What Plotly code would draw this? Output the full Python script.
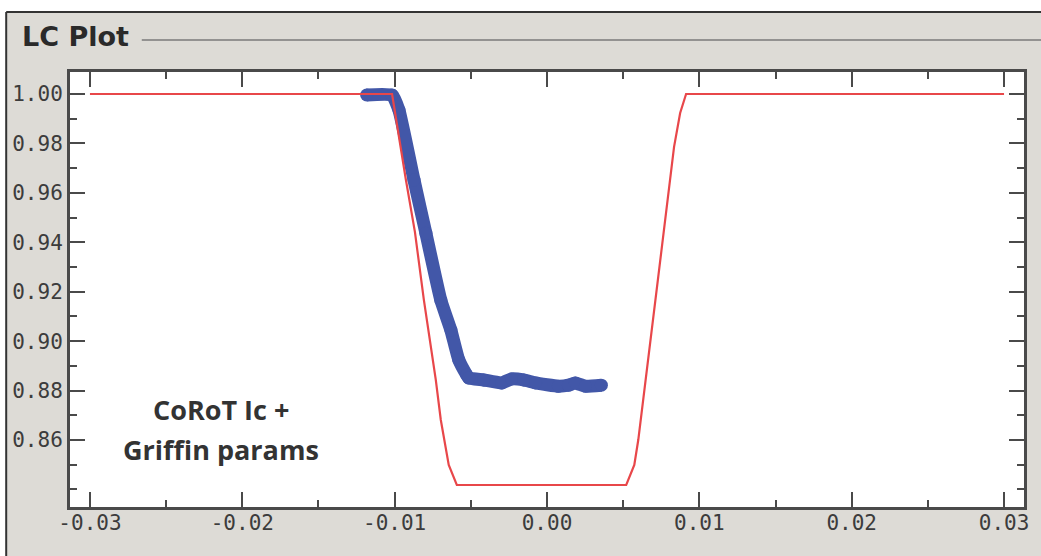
import plotly.graph_objects as go

# ---- data ----
model_phase = [-0.0300, -0.01017, -0.00926, -0.00867, -0.00808, -0.00730, -0.00697,
               -0.00645, -0.00592, 0.00520, 0.00573, 0.00599, 0.00730, 0.00782,
               0.00834, 0.00874, 0.00913, 0.0300]
model_flux = [1.000, 1.000, 0.9652, 0.9442, 0.9166, 0.8843, 0.8681,
              0.8499, 0.8418, 0.8418, 0.8499, 0.8600, 0.9259, 0.9518,
              0.9786, 0.9923, 1.000, 1.000]

obs_phase = [-0.01184, -0.01017, -0.00972, -0.00873, -0.00795, -0.00697, -0.00631,
             -0.00579, -0.00527, -0.00514, -0.00416, -0.00298, -0.00232, -0.00154,
             -0.00075, 0.00075, 0.00141, 0.00186, 0.00252, 0.00357]
obs_flux = [0.9996, 0.9996, 0.9935, 0.9652, 0.9437, 0.9166, 0.9045,
            0.8924, 0.8863, 0.8851, 0.8843, 0.8831, 0.8847, 0.8843,
            0.8831, 0.8818, 0.8822, 0.8831, 0.8818, 0.8822]

x_ticks = [-0.03, -0.02, -0.01, 0.00, 0.01, 0.02, 0.03]
x_labels = ["-0.03", "-0.02", "-0.01", "0.00", "0.01", "0.02", "0.03"]
y_ticks = [0.86, 0.88, 0.90, 0.92, 0.94, 0.96, 0.98, 1.00]
y_labels = ["0.86", "0.88", "0.90", "0.92", "0.94", "0.96", "0.98", "1.00"]

title_text = "LC Plot"
note_lines = ["CoRoT Ic +", "Griffin params"]

W, H = 1041, 556
L, R, T, B = 70, 1027, 72, 507  # plot area in pixels
pw, ph = R - L, B - T


def px(x):
    return (x - L) / pw


def py(y):
    return (B - y) / ph


GREY = "#dddbd6"
AX = "#4a4a4a"

fig = go.Figure()
fig.add_trace(go.Scatter(x=obs_phase, y=obs_flux, mode="lines+markers",
                         line=dict(color="#4257a8", width=13, shape="spline", smoothing=0.4),
                         marker=dict(color="#4257a8", size=13),
                         hoverinfo="skip", showlegend=False))
fig.add_trace(go.Scatter(x=model_phase, y=model_flux, mode="lines",
                         line=dict(color="#e8474a", width=2.2),
                         hoverinfo="skip", showlegend=False))

tickfont = dict(family="DejaVu Sans Mono", size=21, color="#3c3c3c")
fig.update_xaxes(range=[-0.03131, 0.03131], tickvals=x_ticks, ticktext=x_labels,
                 ticks="inside", ticklen=15, tickwidth=2, tickcolor=AX,
                 minor=dict(ticks="inside", ticklen=7, tickwidth=2, tickcolor=AX,
                            dtick=0.005, tick0=0.0),
                 showline=True, linecolor=AX, linewidth=3, mirror="ticks",
                 showgrid=False, zeroline=False, tickfont=tickfont,
                 ticklabelstandoff=-5)
fig.update_yaxes(range=[0.8329, 1.0089], tickvals=y_ticks, ticktext=y_labels,
                 ticks="inside", ticklen=15, tickwidth=2, tickcolor=AX,
                 minor=dict(ticks="inside", ticklen=7, tickwidth=2, tickcolor=AX,
                            dtick=0.01, tick0=0.0),
                 showline=True, linecolor=AX, linewidth=3, mirror="ticks",
                 showgrid=False, zeroline=False, tickfont=tickfont)

shapes = [
    # white outside the panel (top strip and left strip)
    dict(type="rect", xref="paper", yref="paper", x0=-0.2, x1=1.2, y0=py(12), y1=1.3,
         fillcolor="white", line=dict(width=0), layer="above"),
    dict(type="rect", xref="paper", yref="paper", x0=-0.2, x1=px(6), y0=-0.3, y1=1.3,
         fillcolor="white", line=dict(width=0), layer="above"),
    # dark panel border
    dict(type="line", xref="paper", yref="paper", x0=px(6), x1=1.2, y0=py(12), y1=py(12),
         line=dict(color="#333333", width=2)),
    dict(type="line", xref="paper", yref="paper", x0=px(6), x1=px(6), y0=-0.3, y1=py(12),
         line=dict(color="#333333", width=2)),
    # group box line next to the title
    dict(type="line", xref="paper", yref="paper", x0=px(142), x1=px(1045), y0=py(40), y1=py(40),
         line=dict(color="#7a7a7a", width=1.5)),
]

annotations = [
    dict(text="<b>" + title_text + "</b>", xref="paper", yref="paper", x=px(20), y=py(36),
         xanchor="left", yanchor="middle", showarrow=False,
         font=dict(family="DejaVu Sans", size=27, color="#2a2a2a")),
]
for i, line in enumerate(note_lines):
    annotations.append(dict(text="<b>" + line + "</b>", xref="paper", yref="paper",
                            x=px(221), y=py(409 + 40 * i),
                            xanchor="center", yanchor="middle", showarrow=False,
                            font=dict(family="Open Sans", size=27, color="#333333")))

fig.update_layout(width=W, height=H, autosize=False,
                  margin=dict(l=L, r=W - R, t=T, b=H - B, pad=0),
                  paper_bgcolor=GREY, plot_bgcolor="white",
                  shapes=shapes, annotations=annotations, showlegend=False)

fig.write_html("out.html", config={"displayModeBar": False},
               post_script="document.body.style.margin='0';document.body.style.overflow='hidden';")
